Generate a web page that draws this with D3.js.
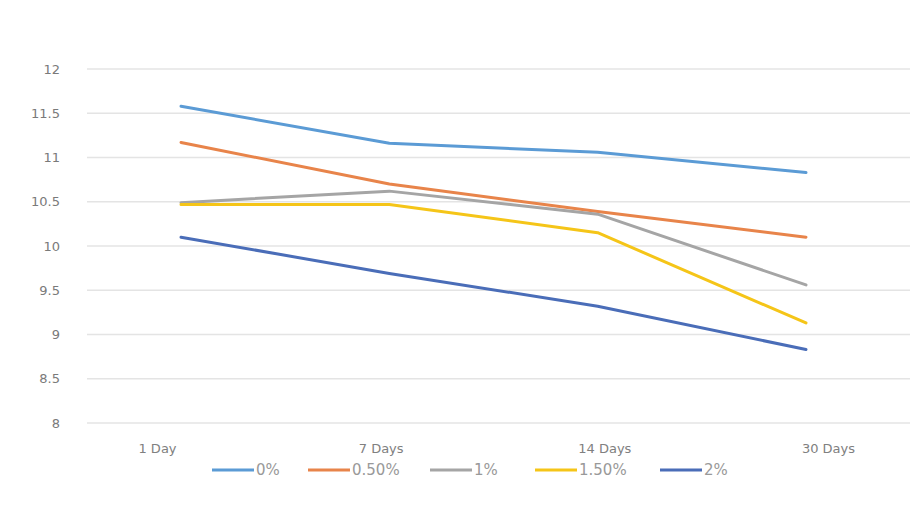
<!DOCTYPE html>
<html>
<head>
<meta charset="utf-8">
<script src="https://cdn.jsdelivr.net/npm/d3@7"></script>
<style>
  body { margin: 0; background: #fff; }
  svg { display: block; }
</style>
</head>
<body>
<div class="svg-container"></div>
<script>
var categories = ['1 Day', '7 Days', '14 Days', '30 Days'];
var seriesNames = ['0%', '0.50%', '1%', '1.50%', '2%'];
var values0 = [11.58, 11.16, 11.06, 10.83];
var values050 = [11.17, 10.70, 10.39, 10.10];
var values1 = [10.49, 10.62, 10.36, 9.56];
var values150 = [10.47, 10.47, 10.15, 9.13];
var values2 = [10.10, 9.69, 9.32, 8.83];
var yTicks = [8, 8.5, 9, 9.5, 10, 10.5, 11, 11.5, 12];

var colours = ['#5b9bd5', '#e8844a', '#a5a5a5', '#f5c518', '#4a6db8'];
var allValues = [values0, values050, values1, values150, values2];

var width = 913;
var height = 527;

var svg = d3.select('.svg-container')
  .append('svg')
  .attr('width', width)
  .attr('height', height);

// Scales
var xScale = d3.scalePoint()
  .domain(categories)
  .range([181, 806]);

// category labels sit a little wider apart than the points in the original
var labelScale = d3.scalePoint()
  .domain(categories)
  .range([157, 828]);

var yScale = d3.scaleLinear()
  .domain([8, 12])
  .range([423, 69]);

// Gridlines
svg.append('g')
  .selectAll('line')
  .data(yTicks)
  .enter()
  .append('line')
  .attr('x1', 87)
  .attr('x2', 910)
  .attr('y1', function(d) { return yScale(d); })
  .attr('y2', function(d) { return yScale(d); })
  .attr('stroke', '#e4e4e4')
  .attr('stroke-width', 1.5);

// Y axis
var yAxis = svg.append('g')
  .attr('transform', 'translate(64,0)')
  .call(d3.axisLeft(yScale).tickValues(yTicks).tickSize(0).tickPadding(4)
    .tickFormat(function(d) { return d; }));
yAxis.select('.domain').remove();
yAxis.selectAll('text')
  .attr('fill', '#7a7a7a')
  .style('font-family', '"DejaVu Sans", Verdana, sans-serif')
  .style('font-size', '13px');

// X axis
var xAxis = svg.append('g')
  .attr('transform', 'translate(0,438)')
  .call(d3.axisBottom(labelScale).tickSize(0).tickPadding(6));
xAxis.select('.domain').remove();
xAxis.selectAll('text')
  .attr('fill', '#808080')
  .style('font-family', '"DejaVu Sans", Tahoma, sans-serif')
  .style('font-size', '13px');

// Lines
var line = d3.line()
  .x(function(d, i) { return xScale(categories[i]); })
  .y(function(d) { return yScale(d); });

svg.append('g')
  .selectAll('path')
  .data(allValues)
  .enter()
  .append('path')
  .attr('fill', 'none')
  .attr('stroke', function(d, i) { return colours[i]; })
  .attr('stroke-width', 3)
  .attr('stroke-linejoin', 'round')
  .attr('stroke-linecap', 'round')
  .attr('d', line);

// Legend
var legendX = [212, 308, 430, 535, 660];
var legend = svg.append('g')
  .selectAll('g')
  .data(seriesNames)
  .enter()
  .append('g')
  .attr('transform', function(d, i) { return 'translate(' + legendX[i] + ',470)'; });

legend.append('line')
  .attr('x1', 0)
  .attr('x2', 42)
  .attr('stroke', function(d, i) { return colours[i]; })
  .attr('stroke-width', 3);

legend.append('text')
  .attr('x', 44)
  .attr('dy', '0.36em')
  .attr('fill', '#999999')
  .style('font-family', '"DejaVu Sans", Verdana, sans-serif')
  .style('font-size', '15px')
  .text(function(d) { return d; });
</script>
</body>
</html>
